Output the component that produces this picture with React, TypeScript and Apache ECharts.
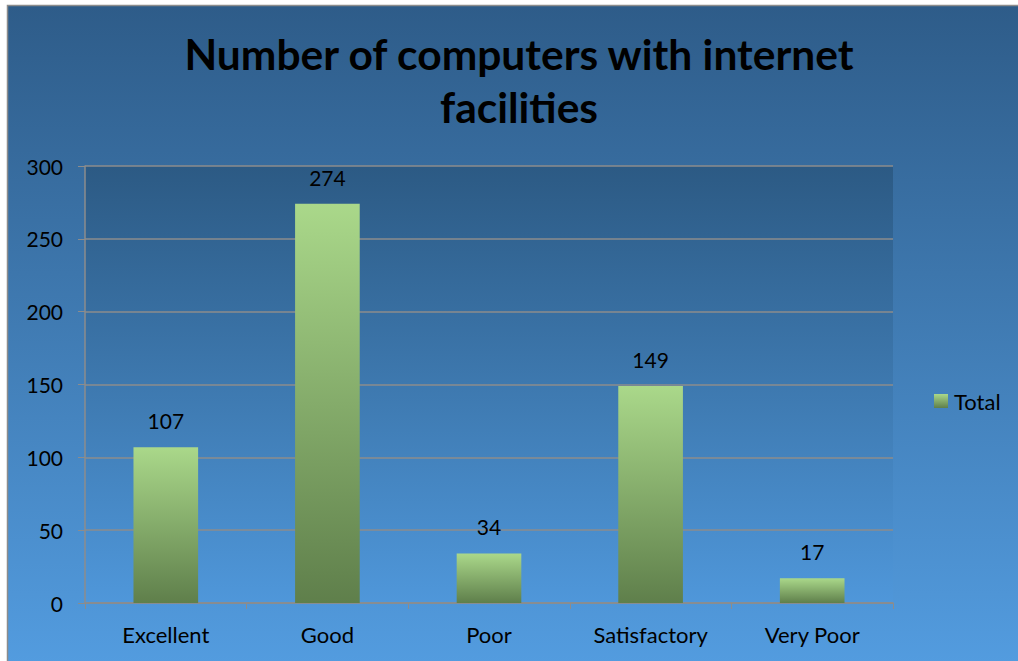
import React, { useEffect, useRef } from "react";
import * as echarts from "echarts";

const categories = ["Excellent", "Good", "Poor", "Satisfactory", "Very Poor"];
const totals = [107, 274, 34, 149, 17];
const seriesName = "Total";
const titleText = "Number of computers with internet\nfacilities";

export default function App() {
  const ref = useRef<HTMLDivElement>(null);
  useEffect(() => {
    document.body.style.margin = "0";
    const chart = echarts.init(ref.current!, null, { renderer: "svg" });
    const font = "Lato, 'Noto Sans', sans-serif";
    const barGrad = new echarts.graphic.LinearGradient(0, 0, 0, 1, [
      { offset: 0, color: "#aad88a" },
      { offset: 1, color: "#5f7f4b" },
    ]);
    chart.setOption({
      animation: false,
      backgroundColor: "#ffffff",
      textStyle: { fontFamily: font },
      graphic: [
        {
          type: "rect",
          z: -10,
          silent: true,
          shape: { x: 7.5, y: 5.5, width: 1030, height: 680 },
          style: {
            fill: new echarts.graphic.LinearGradient(0, 0, 0, 1, [
              { offset: 0, color: "#2e5c89" },
              { offset: 1, color: "#549ee2" },
            ]),
            stroke: "#8c8c8c",
            lineWidth: 1.5,
          },
        },
      ],
      title: {
        text: titleText,
        left: 519,
        top: 27,
        padding: 0,
        textAlign: "center",
        textStyle: {
          fontFamily: font,
          fontSize: 42.5,
          fontWeight: "bold",
          color: "#000000",
          lineHeight: 53,
        },
      },
      legend: {
        data: [seriesName],
        left: 934,
        top: 390,
        padding: 0,
        itemWidth: 14,
        itemHeight: 14,
        icon: "rect",
        textStyle: { fontFamily: font, fontSize: 22, color: "#000000", padding: [0, 0, 0, 1] },
      },
      grid: {
        left: 85,
        right: 125,
        top: 166,
        bottom: 58,
        show: true,
        borderWidth: 0,
        backgroundColor: new echarts.graphic.LinearGradient(0, 0, 0, 1, [
          { offset: 0, color: "#2c5a84" },
          { offset: 1, color: "#4f97da" },
        ]),
      },
      xAxis: {
        type: "category",
        data: categories,
        axisLine: { show: true, lineStyle: { color: "#8c8c8c", width: 1.5 } },
        axisTick: { show: true, alignWithLabel: false, length: 6, lineStyle: { color: "#8c8c8c" } },
        axisLabel: { fontFamily: font, fontSize: 22, color: "#000000", margin: 20 },
      },
      yAxis: {
        type: "value",
        min: 0,
        max: 300,
        interval: 50,
        axisLine: { show: true, lineStyle: { color: "#8c8c8c", width: 1.5 } },
        axisTick: { show: true, length: 7, lineStyle: { color: "#8c8c8c" } },
        axisLabel: { fontFamily: font, fontSize: 21, color: "#000000", margin: 22 },
        splitLine: { show: true, lineStyle: { color: "#8c8c8c", width: 1.5 } },
      },
      series: [
        {
          name: seriesName,
          type: "bar",
          data: totals,
          barWidth: "40%",
          itemStyle: { color: barGrad },
          label: {
            show: true,
            position: "top",
            distance: 16,
            fontFamily: font,
            fontSize: 21,
            color: "#000000",
          },
        },
      ],
    });
    return () => chart.dispose();
  }, []);
  return (
    <div
      ref={ref}
      style={{ position: "fixed", left: 0, top: 0, width: 1018, height: 661 }}
    />
  );
}
